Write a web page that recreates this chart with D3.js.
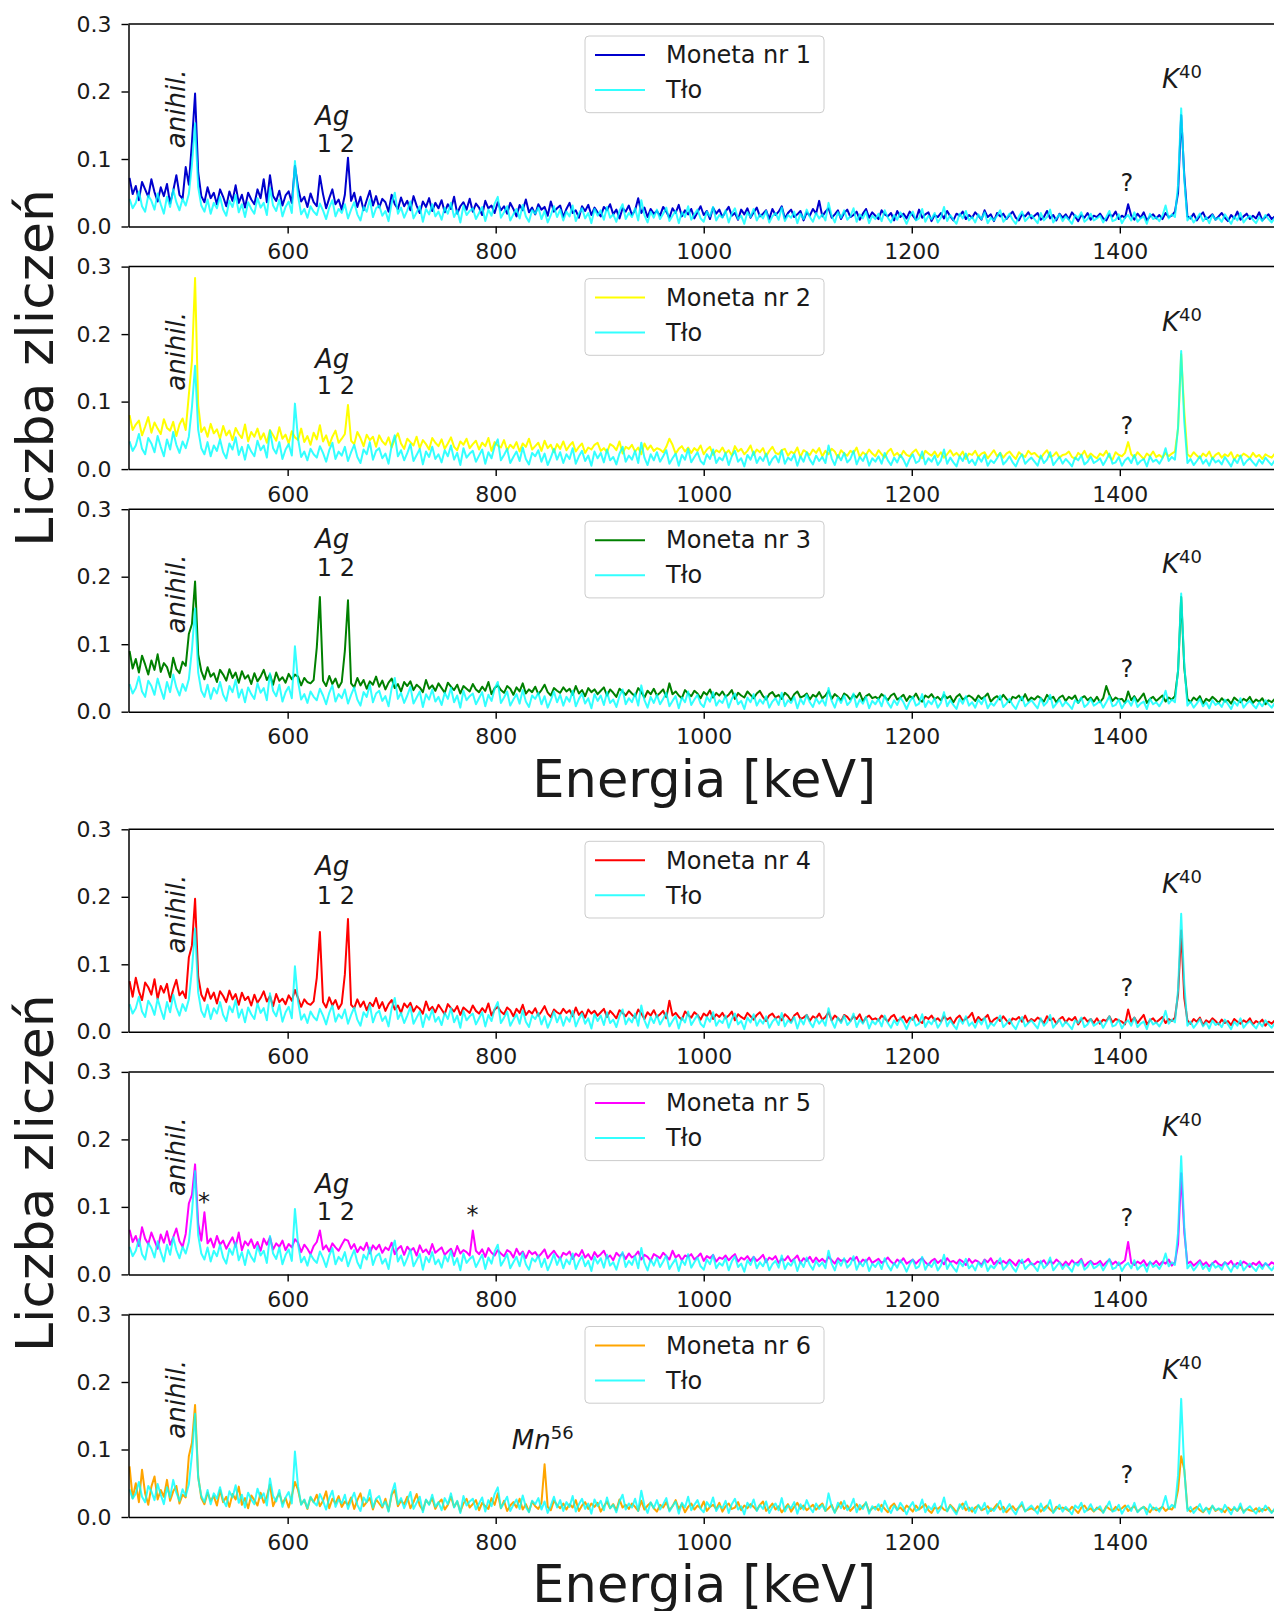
<!DOCTYPE html>
<html>
<head>
<meta charset="utf-8">
<script src="https://cdn.jsdelivr.net/npm/d3@7"></script>
<style>
  body { margin: 0; background: #fff; }
  svg { display: block; }
  text { font-family: "DejaVu Sans", sans-serif; fill: #1a1a1a; }
</style>
</head>
<body>
<svg id="chart" width="1274" height="1611"></svg>
<script>
// Gamma spectra of six coins against the laboratory background.
// Bins: first bin centre and bin width in keV; counts stored in thousandths.
const E_START = 448;
const E_STEP = 3;
const COUNTS_SCALE = 1000;

const background = [
  41,27,35,52,30,22,46,38,25,49,
  33,19,44,29,55,36,24,41,31,48,
  92,153,58,31,22,40,19,35,27,44,
  25,16,38,29,47,21,33,14,36,26,
  19,42,28,35,17,57,31,23,40,15,
  29,37,20,97,45,18,26,13,30,22,
  17,34,24,11,28,39,15,26,20,33,
  12,25,36,18,9,29,22,40,14,27,
  31,16,23,8,35,50,19,28,13,24,
  37,12,21,30,7,26,18,33,15,22,
  10,28,19,35,14,24,6,31,17,23,
  27,11,20,29,8,25,16,34,44,13,
  21,30,9,18,26,12,32,15,7,24,
  19,28,11,23,6,17,30,14,25,9,
  22,15,31,8,19,27,12,20,5,26,
  16,24,10,29,13,18,7,23,33,11,
  20,14,27,9,39,17,6,22,13,25,
  11,19,28,8,16,23,5,21,14,30,
  10,18,25,12,7,22,15,29,9,17,
  13,24,6,19,27,11,16,4,21,14,
  26,9,18,12,23,6,15,20,10,28,
  8,17,13,22,5,19,11,25,14,7,
  20,12,18,9,35,16,6,21,13,24,
  10,15,27,7,18,12,22,5,16,11,
  19,8,24,13,6,17,10,21,14,4,
  15,22,9,12,26,7,16,11,20,6,
  13,29,8,17,10,4,19,12,23,9,
  14,6,18,11,21,5,13,9,16,24,
  7,12,19,10,4,15,22,8,13,17,
  11,5,20,9,14,25,6,12,18,8,
  15,10,4,17,13,21,7,11,19,9,
  12,16,6,14,23,8,10,18,5,13,
  17,9,21,7,12,15,4,19,11,14,
  8,16,31,12,18,14,62,175,70,9,
  15,6,12,19,8,14,5,17,10,13,
  7,18,11,4,15,9,20,6,12,16,
  10,5,14,8,17,11,6,13,9
];

const coin1 = [
  72,48,60,39,66,55,44,70,51,37,
  58,45,63,34,53,76,47,41,88,62,
  125,197,80,45,36,58,42,50,33,55,
  44,30,52,38,61,35,47,28,50,40,
  33,55,42,70,36,76,45,38,53,31,
  46,52,35,90,58,37,44,29,49,36,
  30,75,48,27,42,55,33,40,25,47,
  102,38,50,29,44,24,39,53,31,45,
  28,41,36,22,47,33,26,43,30,38,
  24,45,31,20,37,29,42,23,35,27,
  39,21,33,26,44,19,30,36,25,41,
  22,34,28,17,38,27,31,20,36,24,
  30,19,35,26,15,32,24,40,21,28,
  18,33,25,29,16,37,22,27,31,14,
  26,35,20,24,13,30,23,32,17,28,
  21,15,29,24,33,18,25,12,27,22,
  31,17,24,42,20,28,14,26,19,23,
  16,29,22,13,27,20,32,15,24,18,
  26,12,21,30,17,23,11,28,19,25,
  14,22,29,16,20,10,25,18,27,13,
  21,28,15,19,24,11,26,17,22,30,
  12,20,25,14,18,23,9,21,16,26,
  19,38,15,22,27,13,18,24,11,20,
  25,14,17,22,10,19,26,13,21,16,
  11,24,18,15,20,9,23,14,19,12,
  22,16,10,25,13,18,21,8,17,14,
  20,12,23,15,9,19,16,22,11,17,
  13,21,16,10,24,14,18,8,20,15,
  19,11,17,22,13,9,18,15,21,12,
  16,20,10,14,23,12,17,9,19,13,
  18,11,21,15,8,17,13,20,10,16,
  14,19,12,9,18,15,22,11,16,13,
  33,16,10,19,13,21,9,15,18,12,
  17,11,20,14,16,22,50,165,75,15,
  12,19,9,16,21,11,14,18,10,15,
  20,13,8,17,12,22,10,15,19,11,
  16,12,21,9,14,18,11,15,13
];

const coin2 = [
  80,58,66,72,50,63,77,54,69,60,
  52,74,61,57,70,49,66,75,58,110,
  160,283,95,55,62,48,67,53,59,45,
  64,50,57,43,61,52,46,66,41,55,
  48,60,44,53,39,58,50,42,62,45,
  51,38,56,47,43,60,40,49,36,54,
  44,65,41,50,35,48,57,39,45,52,
  95,42,37,55,46,34,51,43,48,33,
  50,41,36,47,32,44,53,38,30,45,
  40,35,48,31,43,37,29,46,39,34,
  44,30,38,47,33,28,41,36,45,31,
  37,42,29,39,34,46,27,40,35,32,
  43,28,36,31,40,26,38,33,45,29,
  34,39,27,42,31,36,25,37,30,41,
  28,35,40,26,33,38,24,32,29,36,
  39,27,31,25,37,34,28,41,23,33,
  30,36,26,32,22,38,29,35,27,31,
  29,25,33,45,36,23,30,34,26,32,
  24,31,27,35,22,29,33,21,28,25,
  32,23,28,20,34,26,30,22,27,35,
  21,29,25,31,19,27,33,24,22,28,
  30,20,26,23,32,18,28,25,21,29,
  24,31,19,27,22,30,26,17,28,23,
  20,27,24,32,18,25,21,29,23,19,
  28,22,17,26,30,20,24,18,27,21,
  19,25,29,21,16,27,23,20,26,18,
  25,17,22,28,20,24,19,26,15,23,
  21,27,18,23,25,16,22,28,19,24,
  17,23,26,20,15,25,21,18,27,22,
  24,19,16,23,28,18,20,25,17,21,
  22,26,18,15,24,20,27,17,23,19,
  16,23,20,27,18,14,25,21,19,24,
  40,22,17,25,20,15,23,19,26,18,
  21,17,24,19,23,26,60,170,85,22,
  18,25,20,16,23,19,26,15,21,24,
  17,22,19,25,14,21,18,23,20,16,
  24,18,21,15,22,19,17,23,20
];

const coin3 = [
  90,64,78,58,83,70,55,76,62,85,
  59,72,66,51,80,63,57,74,68,115,
  130,193,85,60,48,66,52,57,44,62,
  55,46,63,50,58,43,60,49,54,41,
  57,45,52,62,47,55,40,58,46,51,
  43,56,48,55,52,39,50,44,42,47,
  95,170,46,38,53,41,49,36,44,90,
  165,42,36,50,39,47,34,45,40,52,
  37,46,33,43,49,35,41,30,44,38,
  45,32,40,36,29,47,34,39,31,42,
  35,28,43,37,32,40,27,38,34,30,
  41,33,29,37,31,44,26,35,39,32,
  28,38,34,25,36,30,42,27,33,29,
  37,26,32,40,29,24,35,31,28,36,
  30,34,25,38,27,32,23,35,29,33,
  26,31,36,24,33,28,22,34,30,25,
  32,27,23,35,29,21,31,26,34,24,
  28,33,22,42,26,30,24,20,32,27,
  23,31,27,20,29,25,33,21,28,24,
  30,22,26,32,19,28,24,21,30,25,
  20,27,31,23,18,26,29,22,25,19,
  28,24,17,26,30,21,23,27,18,25,
  22,29,20,24,31,19,26,22,17,27,
  24,18,25,21,28,16,23,26,20,22,
  19,26,22,17,24,27,18,21,25,16,
  23,20,27,18,15,24,21,26,19,22,
  17,25,20,23,14,22,26,18,21,24,
  21,16,24,19,22,27,15,20,23,18,
  25,19,14,22,20,24,17,26,16,21,
  18,23,20,15,25,19,22,14,21,24,
  16,22,19,24,13,20,23,17,21,15,
  22,14,20,38,25,16,21,18,19,13,
  30,17,23,15,21,27,13,19,22,16,
  20,24,15,21,18,23,60,170,65,19,
  14,21,17,23,12,19,16,22,18,13,
  20,15,18,12,21,17,14,19,16,22,
  13,18,15,20,11,17,14,19,16
];

const coin4 = [
  75,52,80,60,47,73,66,55,78,49,
  68,58,71,45,63,77,54,60,50,110,
  128,197,82,55,46,64,49,58,42,60,
  53,44,61,48,56,40,58,47,52,39,
  55,43,50,60,45,53,38,56,44,49,
  41,54,46,62,50,37,48,42,40,45,
  80,148,44,36,51,39,47,34,42,85,
  167,40,35,48,37,45,32,43,38,50,
  35,44,31,41,47,33,39,28,42,36,
  43,30,38,34,27,45,32,37,29,40,
  33,26,41,35,30,38,25,36,32,28,
  39,31,27,35,29,42,24,33,37,30,
  26,36,32,23,34,28,40,25,31,27,
  35,24,30,38,27,22,33,29,26,34,
  28,32,23,36,25,30,21,33,27,31,
  24,29,34,22,31,26,20,32,28,23,
  30,25,21,33,27,19,29,24,32,22,
  26,31,20,46,24,28,22,18,30,25,
  21,29,25,18,27,23,31,19,26,22,
  28,20,24,30,17,26,22,19,28,23,
  18,25,29,21,16,24,27,20,23,17,
  26,22,15,24,28,19,21,25,16,23,
  20,27,18,22,29,17,24,20,15,25,
  22,16,23,19,26,14,21,24,18,20,
  17,24,20,15,22,25,16,19,23,14,
  21,18,25,16,13,22,19,24,17,20,
  15,23,18,21,12,20,24,16,19,22,
  28,14,22,17,20,25,13,18,21,16,
  23,17,12,20,18,22,15,24,14,19,
  16,21,18,13,23,17,20,12,19,22,
  14,20,17,22,11,18,21,15,19,13,
  20,12,18,16,23,14,19,17,15,11,
  33,15,21,13,19,25,11,17,20,14,
  18,22,13,19,16,21,55,150,50,17,
  12,19,15,21,10,17,14,20,16,11,
  18,13,16,10,19,15,12,17,14,20,
  11,16,13,18,9,15,12,17,14
];

const coin5 = [
  66,48,57,42,70,53,45,62,50,38,
  59,47,64,44,55,68,49,41,60,105,
  118,163,75,50,92,46,53,40,57,44,
  50,38,47,55,41,62,36,49,43,52,
  39,48,35,53,44,55,37,46,41,50,
  36,45,40,52,47,33,44,38,30,42,
  48,65,37,43,34,46,40,35,44,52,
  50,38,45,33,41,36,47,31,43,37,
  44,32,40,36,47,30,38,42,29,41,
  35,39,28,43,33,37,30,45,32,36,
  40,29,34,38,27,42,31,36,33,28,
  65,35,30,37,26,39,32,28,36,31,
  27,36,33,25,38,29,34,24,35,30,
  33,26,31,37,24,30,35,28,23,32,
  29,34,23,31,27,36,25,30,22,33,
  26,30,35,24,28,21,32,27,31,23,
  31,25,28,34,22,29,26,20,30,27,
  24,32,27,22,35,25,29,21,28,26,
  30,22,26,31,20,27,24,29,19,25,
  23,28,21,26,30,19,25,22,27,20,
  26,20,24,29,18,25,22,27,17,23,
  21,27,19,23,28,17,24,20,26,18,
  25,19,23,18,26,21,16,24,20,22,
  18,24,21,26,16,22,19,25,17,20,
  23,17,20,25,19,15,22,18,24,16,
  19,22,16,21,24,18,14,20,23,17,
  21,15,24,18,20,16,22,19,14,23,
  17,21,19,14,22,18,24,15,20,16,
  20,16,22,18,13,21,17,19,23,15,
  15,19,17,21,14,20,16,22,18,13,
  19,14,21,16,18,23,12,17,20,15,
  16,20,13,18,22,15,19,14,17,21,
  48,17,14,19,16,21,13,18,15,20,
  14,19,16,22,13,18,45,150,62,16,
  19,13,17,21,14,18,12,16,20,15,
  13,18,15,20,12,17,14,19,16,11,
  17,14,19,12,16,13,18,15,14
];

const coin6 = [
  75,28,50,22,70,35,18,45,60,26,
  40,30,55,24,38,46,20,33,29,90,
  110,166,60,28,19,36,24,31,17,40,
  22,30,15,34,26,45,18,28,13,32,
  25,17,36,21,30,48,16,27,35,20,
  28,14,31,52,40,19,25,12,29,22,
  33,16,24,38,13,27,20,31,15,23,
  18,29,12,25,35,16,22,28,11,26,
  20,14,27,9,33,40,16,24,19,30,
  13,22,34,17,10,25,19,28,12,21,
  26,11,18,30,15,23,8,20,27,14,
  19,25,10,21,16,12,28,18,35,13,
  24,9,17,22,14,27,11,19,8,23,
  16,12,21,78,15,10,24,18,13,20,
  11,19,14,25,9,17,22,12,20,15,
  21,8,16,23,13,19,10,26,14,18,
  12,20,15,9,24,11,17,21,13,8,
  18,14,22,10,16,25,12,19,7,15,
  20,11,17,13,23,9,15,18,12,21,
  8,16,20,12,14,22,10,17,13,19,
  15,10,18,23,9,14,20,11,16,7,
  13,19,8,15,21,12,17,10,14,18,
  11,16,20,9,13,18,7,15,22,12,
  17,9,14,19,11,16,21,8,13,15,
  10,18,12,7,16,20,11,14,9,17,
  13,8,17,11,15,19,10,6,14,12,
  16,11,9,18,13,7,15,20,10,14,
  8,14,17,10,12,16,9,13,19,11,
  15,7,12,16,10,14,18,9,11,13,
  10,16,8,13,17,11,7,15,12,14,
  12,9,15,11,6,14,17,10,13,8,
  14,11,7,16,12,9,15,10,13,17,
  9,13,16,8,12,15,11,7,14,10,
  12,15,9,13,11,18,40,90,70,13,
  8,12,15,10,7,13,11,16,9,12,
  11,7,14,10,13,9,15,8,12,10,
  9,13,8,12,10,14,7,11,9
];

const coinSeries = [coin1, coin2, coin3, coin4, coin5, coin6];
const coinNames = ["Moneta nr 1", "Moneta nr 2", "Moneta nr 3", "Moneta nr 4", "Moneta nr 5", "Moneta nr 6"];
const coinColors = ["#0000cd", "#ffff00", "#008000", "#ff0000", "#ff00ff", "#ffa500"];
const backgroundName = "Tło";
const backgroundColor = "#00ffff";

const xTicks = [600, 800, 1000, 1200, 1400];
const yTicks = [0.0, 0.1, 0.2, 0.3];
const xTitle = "Energia [keV]";
const yTitle = "Liczba zliczeń";

// Peak annotations per panel, placed in data coordinates (keV, counts).
const agLabels = [
  { ag: 0.150, nums: 0.111 },
  { ag: 0.150, nums: 0.111 },
  { ag: 0.242, nums: 0.201 },
  { ag: 0.232, nums: 0.190 },
  { ag: 0.120, nums: 0.080 },
  null
];
const unknownPeakLabelY = [0.052, 0.052, 0.052, 0.053, 0.071, 0.051];
const starLabels = [[], [], [], [], [{ e: 519.6, v: 0.095 }, { e: 777.6, v: 0.076 }], []];
const mnLabel = { panel: 5, e: 815.5, v: 0.101 };

// ---------- layout ----------
const svg = d3.select("#chart");
const defs = svg.append("defs");
const x = d3.scaleLinear().domain([447, 1554]).range([128.5, 1280]);
const PANEL_H = 202.5;
const PANEL_STEP = 242.6;
const groupTops = [24, 829.3];
const panelTop = i => groupTops[Math.floor(i / 3)] + (i % 3) * PANEL_STEP;

const toPoints = arr => arr.map((v, k) => [E_START + k * E_STEP, v / COUNTS_SCALE]);
const bgPoints = toPoints(background);

coinSeries.forEach((vals, i) => {
  const top = panelTop(i);
  const bottom = top + PANEL_H;
  const y = d3.scaleLinear().domain([0, 0.3]).range([bottom, top]);
  const g = svg.append("g").attr("class", "panel");

  defs.append("clipPath").attr("id", "clip" + i)
    .append("rect")
    .attr("x", x.range()[0]).attr("y", top - 2)
    .attr("width", x.range()[1] - x.range()[0]).attr("height", PANEL_H + 2);

  const line = d3.line().x(d => x(d[0])).y(d => y(d[1]));
  const plot = g.append("g").attr("clip-path", `url(#clip${i})`);
  plot.append("path")
    .attr("d", line(toPoints(vals)))
    .attr("fill", "none")
    .attr("stroke", coinColors[i])
    .attr("stroke-width", 2)
    .attr("stroke-linejoin", "round");
  plot.append("path")
    .attr("d", line(bgPoints))
    .attr("fill", "none")
    .attr("stroke", backgroundColor)
    .attr("stroke-opacity", 0.8)
    .attr("stroke-width", 2)
    .attr("stroke-linejoin", "round");

  // axes
  const xAxis = d3.axisBottom(x).tickValues(xTicks).tickSize(7).tickSizeOuter(0)
    .tickPadding(10).tickFormat(d3.format("d"));
  const gx = g.append("g").attr("transform", `translate(0,${bottom})`).call(xAxis);
  const yAxis = d3.axisLeft(y).tickValues(yTicks).tickSize(7).tickSizeOuter(0)
    .tickPadding(10).tickFormat(d3.format(".1f"));
  const gy = g.append("g").attr("transform", `translate(${x.range()[0]},0)`).call(yAxis);
  [gx, gy].forEach(ax => {
    ax.attr("font-family", null).attr("font-size", null);
    ax.select(".domain").attr("stroke", "#000").attr("stroke-width", 1.5);
    ax.selectAll(".tick line").attr("stroke", "#000").attr("stroke-width", 1.4);
    ax.selectAll(".tick text").attr("font-size", 22).attr("fill", "#1a1a1a");
  });
  g.append("line")
    .attr("x1", x.range()[0]).attr("x2", x.range()[1])
    .attr("y1", top).attr("y2", top)
    .attr("stroke", "#000").attr("stroke-width", 1.5);

  // legend
  const lg = g.append("g").attr("transform", `translate(585,${top + 12})`);
  lg.append("rect").attr("width", 239).attr("height", 76.7).attr("rx", 4)
    .attr("fill", "#fff").attr("fill-opacity", 0.8)
    .attr("stroke", "#cccccc").attr("stroke-width", 1);
  [[coinNames[i], coinColors[i], 1], [backgroundName, backgroundColor, 0.8]].forEach((it, j) => {
    lg.append("line").attr("x1", 10).attr("x2", 60)
      .attr("y1", 19 + j * 35).attr("y2", 19 + j * 35)
      .attr("stroke", it[1]).attr("stroke-opacity", it[2]).attr("stroke-width", 2);
    lg.append("text").attr("x", 81).attr("y", 27.3 + j * 35)
      .attr("font-size", 24).text(it[0]);
  });

  // annotations
  const ann = g.append("g");
  ann.append("text")
    .attr("transform", `translate(${x(501.3)},${y(0.116)}) rotate(-90)`)
    .attr("font-size", 26).attr("font-style", "italic").text("anihil.");

  const k = ann.append("text").attr("x", x(1440.5)).attr("y", y(0.205)).attr("font-size", 26);
  k.append("tspan").attr("font-style", "italic").text("K");
  k.append("tspan").attr("dy", -10).attr("font-size", 18).text("40");

  ann.append("text").attr("x", x(1406.8)).attr("y", y(unknownPeakLabelY[i]))
    .attr("text-anchor", "middle").attr("font-size", 24).text("?");

  const agl = agLabels[i];
  if (agl) {
    ann.append("text").attr("x", x(626.3)).attr("y", y(agl.ag))
      .attr("font-size", 26).attr("font-style", "italic").text("Ag");
    ann.append("text").attr("x", x(628)).attr("y", y(agl.nums))
      .attr("font-size", 24).attr("xml:space", "preserve").text("1 2");
  }
  starLabels[i].forEach(s => {
    ann.append("text").attr("x", x(s.e)).attr("y", y(s.v))
      .attr("text-anchor", "middle").attr("font-size", 24).text("*");
  });
  if (mnLabel.panel === i) {
    const mn = ann.append("text").attr("x", x(mnLabel.e)).attr("y", y(mnLabel.v)).attr("font-size", 26);
    mn.append("tspan").attr("font-style", "italic").text("Mn");
    mn.append("tspan").attr("dy", -10).attr("font-size", 18).text("56");
  }
});

// shared axis titles for each group of three panels
groupTops.forEach(gt => {
  const lastBottom = gt + 2 * PANEL_STEP + PANEL_H;
  svg.append("text")
    .attr("x", (x.range()[0] + x.range()[1]) / 2).attr("y", lastBottom + 85)
    .attr("text-anchor", "middle").attr("font-size", 51).attr("fill", "#000")
    .text(xTitle);
  const midY = gt + PANEL_STEP + PANEL_H / 2;
  svg.append("text")
    .attr("transform", `translate(53,${midY}) rotate(-90)`)
    .attr("text-anchor", "middle").attr("font-size", 52).attr("fill", "#000")
    .text(yTitle);
});
</script>
</body>
</html>
